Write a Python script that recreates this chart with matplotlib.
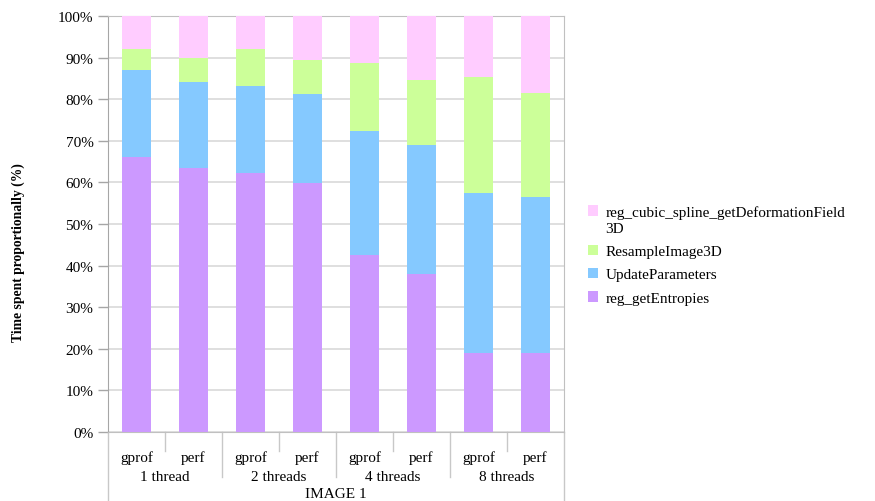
import matplotlib
matplotlib.use('Agg')
import matplotlib.pyplot as plt
from matplotlib.patches import Patch, Rectangle
from matplotlib.legend_handler import HandlerPatch
from matplotlib.ticker import PercentFormatter
import numpy as np

plt.rcParams['font.family'] = ['Liberation Serif', 'DejaVu Serif']
plt.rcParams['font.size'] = 11

TOOLS = ['gprof', 'perf', 'gprof', 'perf', 'gprof', 'perf', 'gprof', 'perf']
GROUPS = ['1 thread', '2 threads', '4 threads', '8 threads']
GROUP_TITLE = 'IMAGE 1'

SERIES = ['reg_getEntropies', 'UpdateParameters', 'ResampleImage3D',
          'reg_cubic_spline_getDeformationField\n3D']
entropies = [66.2, 63.5, 62.3, 59.9, 42.6, 38.0, 19.1, 19.1]
update_params = [20.8, 20.6, 20.9, 21.4, 29.8, 31.0, 38.4, 37.4]
resample = [5.1, 5.8, 8.9, 8.1, 16.4, 15.6, 27.9, 25.1]
deformation = [7.9, 10.1, 7.9, 10.6, 11.2, 15.4, 14.6, 18.4]
COLORS = ['#CC99FF', '#85C9FF', '#CCFF99', '#FFCCFF']

fig = plt.figure(figsize=(8.75, 5.02), dpi=100)
ax = fig.add_axes([108/875, 69/502, 456/875, 416/502])

x = np.arange(len(TOOLS))
bottom = np.zeros(len(TOOLS))
handles = []
for vals, name, col in zip([entropies, update_params, resample, deformation], SERIES, COLORS):
    ax.bar(x, vals, width=0.51, bottom=bottom, color=col, zorder=3, linewidth=0)
    bottom += np.array(vals)
    handles.append(Patch(facecolor=col, edgecolor='none', label=name))

ax.set_xlim(-0.5, len(TOOLS) - 0.5)
ax.set_ylim(0, 100)
ax.set_yticks(np.arange(0, 101, 10))
ax.yaxis.set_major_formatter(PercentFormatter(decimals=0))
ax.grid(axis='y', color='#D9D9D9', linewidth=1.2, zorder=0)
ax.set_xticks([])
ax.tick_params(axis='y', length=7, width=1, color='#A6A6A6', labelsize=11, pad=3.5)
for s in ['top', 'right', 'bottom']:
    ax.spines[s].set_color('#C0C0C0')
ax.spines['left'].set_color('#A6A6A6')
fig.text(18/875, 1 - 253/502, 'Time spent proportionally (%)', rotation=90,
         ha='center', va='center', fontsize=9.8, fontweight='bold')

# two-level category axis drawn below the plot
tr = ax.get_xaxis_transform()
px = 1 / 416
for i, lab in enumerate(TOOLS):
    ax.text(i, -25 * px, lab, transform=tr, ha='center', va='center')
for g, lab in enumerate(GROUPS):
    ax.text(2 * g + 0.5, -45 * px, lab, transform=tr, ha='center', va='center')
ax.text((len(TOOLS) - 1) / 2, -61.5 * px, GROUP_TITLE, transform=tr, ha='center', va='center')
for b in range(len(TOOLS) + 1):
    xb = b - 0.5
    if b == 0 or b == len(TOOLS):
        y1 = -69 * px
    elif b % 2 == 0:
        y1 = -45 * px
    else:
        y1 = -19 * px
    ax.plot([xb, xb], [0, y1], transform=tr, color='#C8C8C8', linewidth=1, clip_on=False)


# square marker sits next to the first line of a wrapped label
def top_square(legend, orig_handle, xdescent, ydescent, width, height, fontsize):
    nlines = orig_handle.get_label().count('\n')
    return Rectangle((-xdescent, -ydescent + nlines * 0.62 * fontsize), width, height)


leg = fig.legend(handles[::-1], [h.get_label() for h in handles[::-1]],
                 loc='center left', bbox_to_anchor=(574/875, 1 - 256/502), frameon=False,
                 handlelength=0.7, handleheight=0.7, handletextpad=0.45, labelspacing=0.62,
                 handler_map={Patch: HandlerPatch(patch_func=top_square)})
for t in leg.get_texts():
    t.set_linespacing(1.3)

fig.savefig('out.png', dpi=100)
